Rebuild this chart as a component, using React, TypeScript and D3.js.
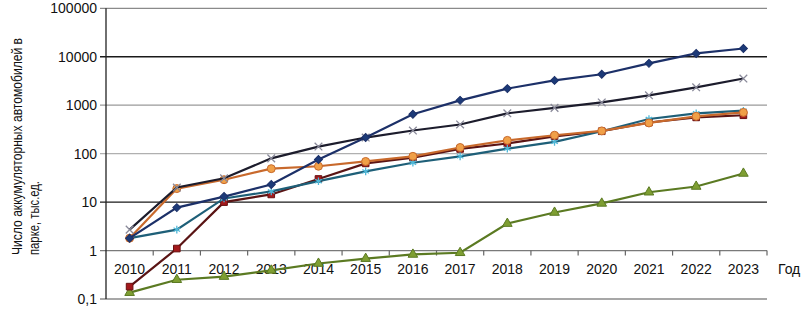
import React from "react";
import * as d3 from "d3";

const years = ["2010","2011","2012","2013","2014","2015","2016","2017","2018","2019","2020","2021","2022","2023"];
const yTicks = [0.1, 1, 10, 100, 1000, 10000, 100000];
const navySeries = [1.8, 7.7, 13, 23, 76, 215, 650, 1260, 2200, 3250, 4350, 7300, 11700, 14800];
const blackSeries = [2.7, 20, 31, 80, 140, 215, 300, 400, 680, 880, 1140, 1600, 2340, 3550];
const redSeries = [0.18, 1.1, 10, 14.4, 30, 63, 83, 125, 162, 228, 290, 440, 560, 620];
const orangeSeries = [1.8, 19, 29, 49, 55, 69, 88, 134, 188, 240, 295, 430, 590, 710];
const tealSeries = [1.8, 2.7, 11.9, 16.6, 27, 43, 65, 88, 127, 175, 290, 520, 680, 770];
const greenSeries = [0.135, 0.25, 0.29, 0.39, 0.54, 0.68, 0.83, 0.9, 3.6, 6.1, 9.4, 16, 21, 39];

const W = 804, H = 311;
const left = 106, right = 767, top = 8.3, bottom = 299;
const font = "Arial, 'Liberation Sans', sans-serif";

const gridColor: Record<string, string> = {
  "0.1": "#8a8a8a", "1": "#7a7a7a", "10": "#1a1a1a", "100": "#b0b0b0",
  "1000": "#9a9a9a", "10000": "#1a1a1a", "100000": "#8a8a8a",
};

type S = { values: number[]; line: string; marker: string; fill: string; stroke: string };
const series: S[] = [
  { values: greenSeries, line: "#5b7a22", marker: "triangle", fill: "#7e9e32", stroke: "#5b7a22" },
  { values: redSeries, line: "#5a1414", marker: "square", fill: "#a3191c", stroke: "#6a1010" },
  { values: tealSeries, line: "#1e5f78", marker: "star", fill: "#4fb8d8", stroke: "#4fb8d8" },
  { values: orangeSeries, line: "#c8692c", marker: "circle", fill: "#f0a048", stroke: "#c8692c" },
  { values: blackSeries, line: "#1c1c2c", marker: "x", fill: "none", stroke: "#8a8a9a" },
  { values: navySeries, line: "#1c3068", marker: "diamond", fill: "#1c3a78", stroke: "#1c3068" },
];

export default function App() {
  const x = d3.scaleBand<string>().domain(years).range([left, right]);
  const y = d3.scaleLog().domain([0.1, 100000]).range([bottom, top]);
  const cx = (yr: string) => (x(yr) as number) + x.bandwidth() / 2;
  const y1 = y(1);
  const line = d3.line<number>().x((_, i) => cx(years[i])).y((d) => y(d));
  const fmt = (v: number) => (v < 1 ? String(v).replace(".", ",") : String(v));
  const sym = (kind: string) => {
    const t =
      kind === "triangle" ? d3.symbolTriangle :
      kind === "square" || kind === "diamond" ? d3.symbolSquare :
      kind === "circle" ? d3.symbolCircle :
      kind === "star" ? d3.symbolAsterisk : d3.symbolX;
    const size = kind === "square" ? 44 : kind === "circle" ? 50 : kind === "diamond" ? 32 : 40;
    return d3.symbol().type(t).size(size)() as string;
  };
  return (
    <svg width={W} height={H} style={{ position: "absolute", left: 0, top: 0, background: "#fff" }}>
      {yTicks.map((t) => (
        <g key={t}>
          <line x1={left - 6} x2={right} y1={y(t)} y2={y(t)} stroke={gridColor[String(t)]} strokeWidth={1.3} />
          <text x={97} y={y(t)} dy="0.36em" textAnchor="end" fontFamily={font} fontSize={14} fill="#111">{fmt(t)}</text>
        </g>
      ))}
      <line x1={left} x2={left} y1={top} y2={bottom} stroke="#222" strokeWidth={1.3} />
      {years.map((yr) => (
        <line key={"t" + yr} x1={(x(yr) as number) + x.bandwidth()} x2={(x(yr) as number) + x.bandwidth()} y1={y1} y2={y1 + 5} stroke="#666" strokeWidth={1.2} />
      ))}
      {years.map((yr) => (
        <text key={yr} x={cx(yr)} y={274} textAnchor="middle" fontFamily={font} fontSize={14} fill="#111">{yr}</text>
      ))}
      <text x={778} y={274} fontFamily={font} fontSize={14} fill="#111">Год</text>
      <g transform="translate(17,255) rotate(-90)">
        <text x={0} y={0} dy="0.35em" fontFamily={font} fontSize={14} fill="#111" textLength={217} lengthAdjust="spacingAndGlyphs">Число аккумуляторных автомобилей в</text>
        <text x={0} y={17} dy="0.35em" fontFamily={font} fontSize={14} fill="#111" textLength={74} lengthAdjust="spacingAndGlyphs">парке, тыс.ед.</text>
      </g>
      {series.map((s, k) => (
        <g key={k}>
          <path d={line(s.values) as string} fill="none" stroke={s.line} strokeWidth={2.2} />
          {s.values.map((v, i) => (
            <path key={i} d={sym(s.marker)}
              transform={`translate(${cx(years[i])},${y(v)})${s.marker === "diamond" ? " rotate(45)" : ""}`}
              fill={s.marker === "x" || s.marker === "star" ? "none" : s.fill}
              stroke={s.stroke} strokeWidth={s.marker === "x" || s.marker === "star" ? 1.3 : 1} />
          ))}
        </g>
      ))}
    </svg>
  );
}
